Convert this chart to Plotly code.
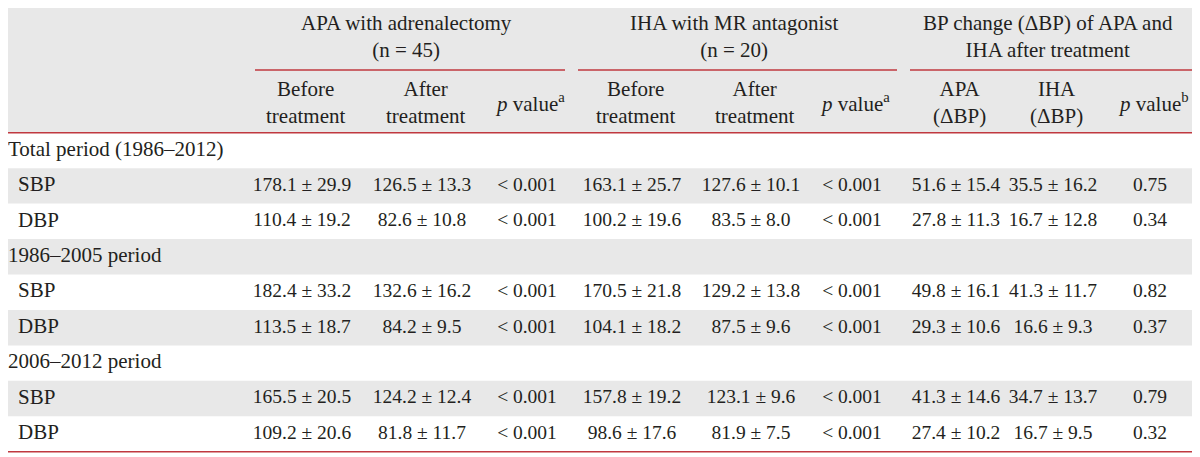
import plotly.graph_objects as go

# table content
row_labels = ["Total period (1986–2012)", "SBP", "DBP",
              "1986–2005 period", "SBP", "DBP",
              "2006–2012 period", "SBP", "DBP"]
section_rows = [0, 3, 6]

apa_before = ["", "178.1 ± 29.9", "110.4 ± 19.2", "", "182.4 ± 33.2", "113.5 ± 18.7", "", "165.5 ± 20.5", "109.2 ± 20.6"]
apa_after = ["", "126.5 ± 13.3", "82.6 ± 10.8", "", "132.6 ± 16.2", "84.2 ± 9.5", "", "124.2 ± 12.4", "81.8 ± 11.7"]
apa_p = ["", "< 0.001", "< 0.001", "", "< 0.001", "< 0.001", "", "< 0.001", "< 0.001"]
iha_before = ["", "163.1 ± 25.7", "100.2 ± 19.6", "", "170.5 ± 21.8", "104.1 ± 18.2", "", "157.8 ± 19.2", "98.6 ± 17.6"]
iha_after = ["", "127.6 ± 10.1", "83.5 ± 8.0", "", "129.2 ± 13.8", "87.5 ± 9.6", "", "123.1 ± 9.6", "81.9 ± 7.5"]
iha_p = ["", "< 0.001", "< 0.001", "", "< 0.001", "< 0.001", "", "< 0.001", "< 0.001"]
delta_apa = ["", "51.6 ± 15.4", "27.8 ± 11.3", "", "49.8 ± 16.1", "29.3 ± 10.6", "", "41.3 ± 14.6", "27.4 ± 10.2"]
delta_iha = ["", "35.5 ± 16.2", "16.7 ± 12.8", "", "41.3 ± 11.7", "16.6 ± 9.3", "", "34.7 ± 13.7", "16.7 ± 9.5"]
p_between = ["", "0.75", "0.34", "", "0.82", "0.37", "", "0.79", "0.32"]

group_headers = ["APA with adrenalectomy<br>(n = 45)",
                 "IHA with MR antagonist<br>(n = 20)",
                 "BP change (ΔBP) of APA and<br>IHA after treatment"]
col_headers = ["Before<br>treatment", "After<br>treatment", "<i>p</i> value<sup>a</sup>",
               "Before<br>treatment", "After<br>treatment", "<i>p</i> value<sup>a</sup>",
               "APA<br>(ΔBP)", "IHA<br>(ΔBP)", "<i>p</i> value<sup>b</sup>"]

# layout (page pixel coordinates; the page body adds an 8px margin)
W, H = 1200, 457
PAGE_MARGIN = 8
left, right = 5, 1193
top_line, group_line, head_line = 5, 70, 132.7
row_h = 35.45
col_x = [302, 422, 527, 632, 751, 852, 956, 1053, 1150]
group_span = [(255, 565), (578, 897), (910, 1193)]

RED = "#c0383f"
GREY = "#e8e8e8"
INK = "#231f20"
FONT = "Liberation Serif"
FS = 21
FS_CELL = 19.5

columns = [apa_before, apa_after, apa_p, iha_before, iha_after, iha_p,
           delta_apa, delta_iha, p_between]


def row_y(i):
    return head_line + row_h * (i + 0.5)


fig = go.Figure()

shapes = [dict(type="rect", x0=left, x1=right, y0=top_line, y1=head_line,
               fillcolor=GREY, line_width=0, layer="below")]
for i in range(len(row_labels)):
    if i % 2 == 1:
        shapes.append(dict(type="rect", x0=left, x1=right,
                           y0=head_line + row_h * i, y1=head_line + row_h * (i + 1),
                           fillcolor=GREY, line_width=0, layer="below"))
bottom = head_line + row_h * len(row_labels)
for y in [top_line, head_line, bottom]:
    shapes.append(dict(type="line", x0=left, x1=right, y0=y, y1=y,
                       line=dict(color=RED, width=1.6)))
for x0, x1 in group_span:
    shapes.append(dict(type="line", x0=x0, x1=x1, y0=group_line, y1=group_line,
                       line=dict(color=RED, width=1.6)))

# row labels
lab_x = [8 if i in section_rows else 18 for i in range(len(row_labels))]
fig.add_trace(go.Scatter(
    x=lab_x, y=[row_y(i) for i in range(len(row_labels))],
    text=row_labels, mode="text", textposition="middle right",
    textfont=dict(family=FONT, size=FS, color=INK),
    hoverinfo="skip", cliponaxis=False, showlegend=False))

# body cells
for cx, vals in zip(col_x, columns):
    idx = [i for i, v in enumerate(vals) if v]
    fig.add_trace(go.Scatter(
        x=[cx] * len(idx), y=[row_y(i) for i in idx],
        text=[vals[i] for i in idx], mode="text", textposition="middle center",
        textfont=dict(family=FONT, size=FS_CELL, color=INK),
        hoverinfo="skip", cliponaxis=False, showlegend=False))

annotations = []
for (x0, x1), txt in zip(group_span, group_headers):
    annotations.append(dict(x=(x0 + x1) / 2 - 4, y=36, text=txt, showarrow=False,
                            xref="x", yref="y", font=dict(family=FONT, size=FS, color=INK)))
for cx, txt in zip(col_x, col_headers):
    annotations.append(dict(x=cx + 3, y=102, text=txt, showarrow=False,
                            xref="x", yref="y", font=dict(family=FONT, size=FS, color=INK)))

fig.update_layout(
    width=W - PAGE_MARGIN, height=H - PAGE_MARGIN, margin=dict(l=0, r=0, t=0, b=0),
    paper_bgcolor="white", plot_bgcolor="white",
    xaxis=dict(range=[PAGE_MARGIN, W], visible=False, fixedrange=True),
    yaxis=dict(range=[H, PAGE_MARGIN], visible=False, fixedrange=True),
    shapes=shapes, annotations=annotations,
)

fig.write_html("out.html")
